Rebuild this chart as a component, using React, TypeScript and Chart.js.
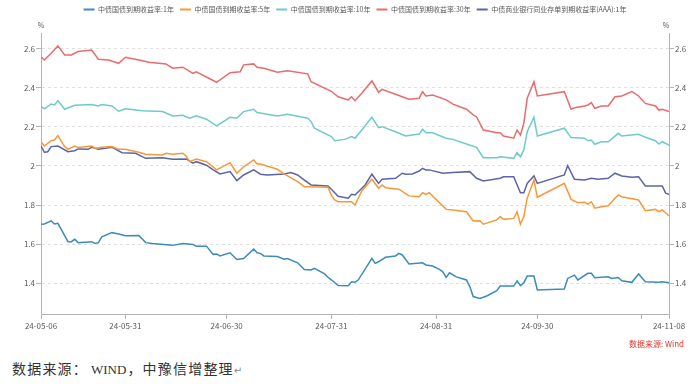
import React, { useEffect, useRef } from "react";
import { Chart, registerables } from "chart.js";

Chart.register(...registerables);

// ---- data (x = calendar days since 2024-05-06) ----
const seriesNames = [
  "中债国债到期收益率:1年",
  "中债国债到期收益率:5年",
  "中债国债到期收益率:10年",
  "中债国债到期收益率:30年",
  "中债商业银行同业存单到期收益率(AAA):1年",
];
const seriesColors = ["#3b8bbb", "#f7993a", "#6fcaca", "#e96b6b", "#5b64a6"];
const xTickDays = [0, 25, 55, 86, 117, 147, 178, 186];
const hiddenTickDays = [178];
const yTicks = [1.4, 1.6, 1.8, 2, 2.2, 2.4, 2.6];
const yMin = 1.243;
const yMax = 2.68;
const unitLabel = "%";
const sourceLabel = "数据来源: Wind";
const captionParts = ["数据来源：", "WIND", "，中豫信增整理", "↵"];

const cgb1y: [number, number][] = [
  [0, 1.702], [1, 1.703], [3, 1.719], [4, 1.703], [5, 1.707], [8, 1.613], [9, 1.613], [10, 1.625],
  [11, 1.608], [15, 1.613], [16, 1.604], [17, 1.608], [18, 1.638], [21, 1.659], [23, 1.652], [25, 1.643],
  [29, 1.645], [31, 1.608], [33, 1.603], [39, 1.594], [42, 1.604], [45, 1.599], [46, 1.59], [49, 1.59],
  [51, 1.548], [52, 1.55], [53, 1.54], [56, 1.556], [58, 1.522], [60, 1.527], [63, 1.575], [64, 1.556],
  [65, 1.553], [66, 1.54], [70, 1.537], [72, 1.523], [73, 1.527], [76, 1.505], [78, 1.471], [80, 1.468],
  [81, 1.477], [84, 1.448], [85, 1.431], [86, 1.418], [88, 1.389], [91, 1.388], [92, 1.408], [93, 1.405],
  [94, 1.418], [98, 1.527], [99, 1.502], [100, 1.51], [102, 1.533], [105, 1.54], [106, 1.553], [107, 1.545],
  [109, 1.499], [113, 1.505], [114, 1.494], [116, 1.488], [118, 1.471], [119, 1.459], [120, 1.43], [121, 1.454],
  [123, 1.433], [126, 1.417], [127, 1.383], [128, 1.332], [130, 1.323], [132, 1.335], [135, 1.362], [136, 1.386],
  [140, 1.386], [141, 1.413], [142, 1.388], [143, 1.403], [144, 1.437], [146, 1.437], [147, 1.366], [155, 1.371],
  [156, 1.425], [158, 1.442], [159, 1.417], [162, 1.451], [163, 1.451], [164, 1.428], [168, 1.433], [169, 1.425],
  [171, 1.43], [172, 1.413], [175, 1.405], [177, 1.448], [179, 1.408], [183, 1.405], [184, 1.408], [186, 1.403],
];

const cgb5y: [number, number][] = [
  [0, 2.124], [1, 2.102], [3, 2.129], [4, 2.133], [5, 2.155], [7, 2.099], [8, 2.085], [10, 2.102],
  [11, 2.094], [15, 2.102], [16, 2.091], [18, 2.096], [21, 2.099], [23, 2.085], [25, 2.085], [29, 2.07],
  [31, 2.06], [36, 2.056], [37, 2.065], [39, 2.06], [42, 2.065], [43, 2.051], [44, 2.022], [46, 2.036],
  [49, 2.022], [52, 1.98], [56, 2.017], [58, 1.963], [60, 1.996], [63, 2.031], [64, 2.01], [65, 2.01],
  [70, 1.983], [72, 1.959], [76, 1.92], [78, 1.894], [79, 1.894], [85, 1.891], [86, 1.85], [87, 1.826],
  [88, 1.817], [92, 1.817], [93, 1.8], [95, 1.872], [98, 1.932], [100, 1.886], [101, 1.903], [102, 1.889],
  [106, 1.881], [109, 1.847], [112, 1.843], [113, 1.863], [114, 1.855], [115, 1.863], [120, 1.778], [122, 1.775],
  [126, 1.766], [128, 1.719], [130, 1.72], [131, 1.702], [135, 1.724], [136, 1.741], [137, 1.727], [140, 1.732],
  [141, 1.766], [142, 1.702], [143, 1.741], [144, 1.835], [146, 1.928], [147, 1.84], [155, 1.911], [157, 1.829],
  [159, 1.812], [161, 1.814], [162, 1.805], [163, 1.817], [164, 1.784], [166, 1.792], [168, 1.796], [170, 1.835],
  [171, 1.852], [172, 1.843], [177, 1.826], [179, 1.771], [182, 1.778], [183, 1.766], [184, 1.775], [185, 1.761],
  [186, 1.744],
];

const cgb10y: [number, number][] = [
  [0, 2.303], [1, 2.292], [3, 2.317], [4, 2.312], [5, 2.334], [7, 2.29], [10, 2.31], [15, 2.314],
  [17, 2.307], [18, 2.314], [21, 2.307], [23, 2.28], [25, 2.293], [30, 2.283], [36, 2.278], [39, 2.256],
  [42, 2.259], [44, 2.244], [46, 2.256], [49, 2.239], [52, 2.205], [56, 2.249], [58, 2.244], [60, 2.278],
  [63, 2.29], [64, 2.273], [70, 2.256], [73, 2.264], [79, 2.244], [80, 2.227], [81, 2.193], [86, 2.15],
  [87, 2.129], [90, 2.136], [92, 2.15], [93, 2.142], [95, 2.184], [98, 2.249], [100, 2.196], [101, 2.201],
  [105, 2.175], [108, 2.153], [112, 2.163], [113, 2.188], [114, 2.17], [116, 2.17], [120, 2.142], [122, 2.136],
  [126, 2.112], [129, 2.095], [131, 2.042], [135, 2.042], [136, 2.047], [140, 2.039], [141, 2.068], [142, 2.047],
  [143, 2.082], [144, 2.175], [146, 2.249], [147, 2.153], [155, 2.193], [157, 2.145], [161, 2.142], [162, 2.129],
  [163, 2.133], [164, 2.111], [166, 2.124], [168, 2.124], [170, 2.153], [171, 2.167], [172, 2.153], [177, 2.162],
  [179, 2.147], [182, 2.129], [183, 2.112], [184, 2.124], [186, 2.107],
];

const cgb30y: [number, number][] = [
  [0, 2.559], [1, 2.542], [3, 2.576], [5, 2.614], [7, 2.568], [9, 2.568], [11, 2.585], [15, 2.593],
  [17, 2.546], [20, 2.542], [23, 2.525], [25, 2.556], [29, 2.542], [32, 2.53], [37, 2.522], [39, 2.5],
  [42, 2.505], [45, 2.474], [46, 2.482], [52, 2.428], [56, 2.477], [59, 2.482], [60, 2.517], [63, 2.522],
  [64, 2.505], [66, 2.5], [70, 2.479], [73, 2.487], [79, 2.471], [80, 2.431], [86, 2.382], [88, 2.354],
  [91, 2.338], [92, 2.354], [93, 2.334], [95, 2.372], [98, 2.435], [100, 2.377], [101, 2.392], [105, 2.367],
  [109, 2.341], [112, 2.346], [113, 2.38], [114, 2.358], [116, 2.363], [120, 2.338], [122, 2.316], [126, 2.29],
  [128, 2.261], [129, 2.252], [131, 2.184], [135, 2.17], [136, 2.17], [137, 2.153], [140, 2.142], [141, 2.184],
  [142, 2.158], [143, 2.218], [144, 2.346], [146, 2.431], [147, 2.358], [155, 2.38], [157, 2.29], [158, 2.298],
  [161, 2.307], [162, 2.312], [163, 2.324], [164, 2.295], [166, 2.307], [168, 2.307], [170, 2.354], [172, 2.358],
  [175, 2.38], [177, 2.358], [179, 2.32], [182, 2.307], [183, 2.286], [184, 2.29], [186, 2.278],
];

const ncdAAA1y: [number, number][] = [
  [0, 2.102], [1, 2.07], [2, 2.073], [3, 2.099], [5, 2.102], [8, 2.073], [10, 2.078], [11, 2.087],
  [14, 2.085], [15, 2.096], [17, 2.085], [21, 2.096], [24, 2.068], [28, 2.065], [31, 2.039], [36, 2.042],
  [39, 2.034], [43, 2.036], [45, 2.014], [46, 2.022], [49, 2.004], [51, 1.98], [53, 1.959], [56, 1.971],
  [58, 1.925], [60, 1.954], [63, 1.98], [65, 1.958], [67, 1.954], [72, 1.959], [74, 1.966], [76, 1.954],
  [78, 1.928], [80, 1.903], [85, 1.898], [86, 1.881], [88, 1.845], [91, 1.835], [92, 1.855], [93, 1.852],
  [96, 1.903], [98, 1.958], [100, 1.911], [101, 1.932], [105, 1.937], [107, 1.963], [108, 1.958], [110, 1.959],
  [112, 1.974], [113, 1.988], [114, 1.98], [115, 1.98], [119, 1.963], [122, 1.966], [127, 1.971], [129, 1.937],
  [131, 1.923], [136, 1.937], [137, 1.945], [140, 1.945], [142, 1.863], [143, 1.863], [144, 1.911], [146, 1.949],
  [147, 1.911], [155, 1.954], [156, 2.002], [158, 1.932], [161, 1.928], [163, 1.937], [165, 1.932], [168, 1.937],
  [170, 1.963], [172, 1.949], [175, 1.942], [177, 1.945], [179, 1.898], [184, 1.898], [185, 1.861], [186, 1.855],
];

const seriesData = [cgb1y, cgb5y, cgb10y, cgb30y, ncdAAA1y];

function dayLabel(day: number): string {
  const dt = new Date(2024, 4, 6 + day);
  const p = (n: number) => String(n).padStart(2, "0");
  return `${String(dt.getFullYear()).slice(2)}-${p(dt.getMonth() + 1)}-${p(dt.getDate())}`;
}

const FONT = '"Noto Sans CJK SC", "Noto Sans", sans-serif';
const TEXT = "#595959";
const AXIS = "#b4b4b4";

const extraText = {
  id: "extraText",
  beforeInit(chart: any) {
    if (chart.legend) {
      const orig = chart.legend.fit;
      chart.legend.fit = function () {
        orig.call(this);
        this.height = 33;
      };
    }
  },
  afterDraw(chart: any) {
    const { ctx, chartArea } = chart;
    ctx.save();
    ctx.font = `7px ${FONT}`;
    ctx.fillStyle = TEXT;
    ctx.textAlign = "center";
    ctx.textBaseline = "middle";
    ctx.fillText(unitLabel, chartArea.left, chartArea.top - 8);
    ctx.fillText(unitLabel, chartArea.right - 3, chartArea.top - 8);
    ctx.font = `8px ${FONT}`;
    ctx.fillStyle = "#e0352b";
    ctx.textAlign = "right";
    ctx.fillText(sourceLabel, chartArea.right + 15, chartArea.bottom + 30);
    ctx.restore();
  },
};

function LineChart() {
  const ref = useRef<HTMLCanvasElement | null>(null);
  useEffect(() => {
    if (!ref.current) return;
    const chart = new Chart(ref.current, {
      type: "line",
      data: {
        datasets: seriesData.map((s, i) => ({
          label: seriesNames[i],
          data: s.map(([x, y]) => ({ x, y })),
          borderColor: seriesColors[i],
          backgroundColor: seriesColors[i],
          borderWidth: 1.5,
          pointRadius: 0,
          tension: 0,
          yAxisID: "y",
        })),
      },
      options: {
        animation: false,
        responsive: false,
        layout: { padding: { left: 0, right: 0, top: 0, bottom: 18 } },
        plugins: {
          legend: {
            position: "top",
            fullSize: false,
            labels: {
              boxWidth: 11,
              boxHeight: 2,
              padding: 6,
              color: TEXT,
              font: { size: 7, family: FONT },
              generateLabels: (c: any) =>
                Chart.defaults.plugins.legend.labels.generateLabels(c).map((it: any) => ({
                  ...it,
                  lineWidth: 0,
                })),
            },
          },
          tooltip: { enabled: false },
        },
        scales: {
          x: {
            type: "linear",
            min: 0,
            max: 186,
            afterFit: (s: any) => {
              s.height = 20;
            },
            afterBuildTicks: (s: any) => {
              s.ticks = xTickDays.map((v) => ({ value: v }));
            },
            ticks: {
              autoSkip: false,
              maxRotation: 0,
              padding: 2,
              color: TEXT,
              font: { size: 8, family: FONT },
              callback: (v: any) => (hiddenTickDays.includes(Number(v)) ? "" : dayLabel(Number(v))),
            },
            grid: { drawOnChartArea: false, drawTicks: true, tickLength: 5, tickColor: AXIS, color: AXIS },
            border: { display: true, color: AXIS, width: 1 },
          },
          y: {
            type: "linear",
            position: "left",
            min: yMin,
            max: yMax,
            afterFit: (s: any) => {
              s.width = 41;
            },
            afterBuildTicks: (s: any) => {
              s.ticks = yTicks.map((v) => ({ value: v }));
            },
            ticks: {
              padding: 1,
              color: TEXT,
              font: { size: 8, family: FONT },
              callback: (v: any) => String(Number(Number(v).toFixed(1))),
            },
            grid: { color: "#e0e0e0", tickColor: AXIS, tickLength: 5, lineWidth: 1 },
            border: { display: true, color: AXIS, width: 1, dash: [3, 3] },
          },
          y2: {
            type: "linear",
            position: "right",
            min: yMin,
            max: yMax,
            afterFit: (s: any) => {
              s.width = 28;
            },
            afterBuildTicks: (s: any) => {
              s.ticks = yTicks.map((v) => ({ value: v }));
            },
            ticks: {
              padding: 1,
              color: TEXT,
              font: { size: 8, family: FONT },
              callback: (v: any) => String(Number(Number(v).toFixed(1))),
            },
            grid: { drawOnChartArea: false, tickColor: AXIS, tickLength: 5 },
            border: { display: true, color: AXIS, width: 1 },
          },
        },
      } as any,
      plugins: [extraText],
    });
    return () => chart.destroy();
  }, []);
  return <canvas ref={ref} width={697} height={352} style={{ width: 697, height: 352, display: "block" }} />;
}

export default function App() {
  const cjk: React.CSSProperties = { fontFamily: '"Noto Sans CJK SC", sans-serif', fontSize: 14, letterSpacing: 1.2 };
  return (
    <div style={{ position: "fixed", left: 0, top: 0, width: 697, height: 390, background: "#fff", overflow: "hidden" }}>
      <div style={{ position: "absolute", left: 0, top: 0 }}>
        <LineChart />
      </div>
      <div
        style={{
          position: "absolute",
          left: 12,
          top: 360,
          lineHeight: "16px",
          color: "#333",
          whiteSpace: "nowrap",
        }}
      >
        <span style={cjk}>{captionParts[0]}</span>
        <span style={{ fontFamily: '"Liberation Serif", serif', fontSize: 13, marginLeft: 3, marginRight: 1 }}>
          {captionParts[1]}
        </span>
        <span style={cjk}>{captionParts[2]}</span>
        <span style={{ fontFamily: '"DejaVu Sans", sans-serif', fontSize: 10, color: "#888" }}>{captionParts[3]}</span>
      </div>
    </div>
  );
}
